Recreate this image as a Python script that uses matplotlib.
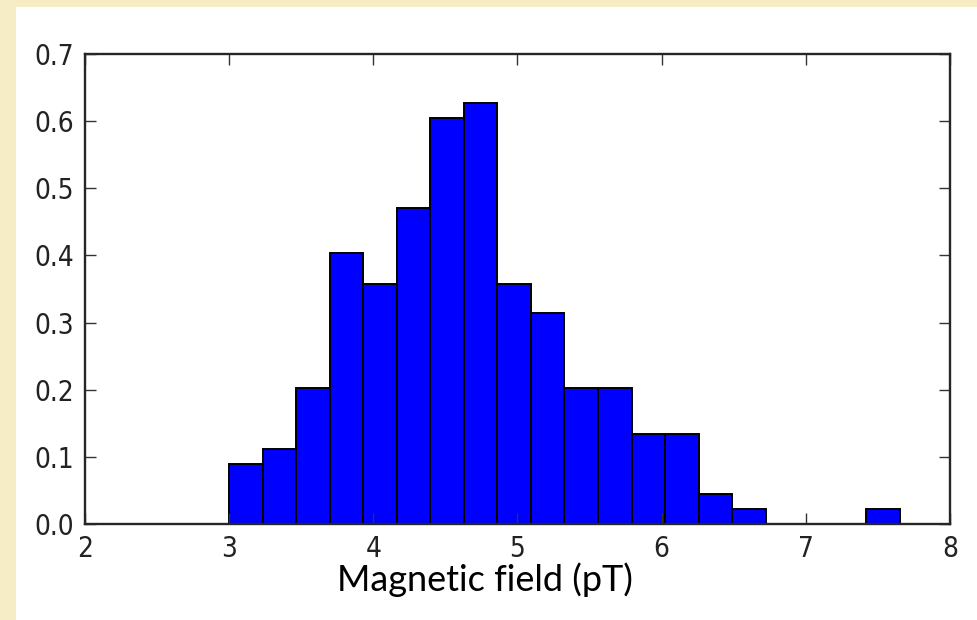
import numpy as np
import matplotlib
matplotlib.use("Agg")
import matplotlib.pyplot as plt
from matplotlib.patches import Rectangle

# Data (normalised histogram, 20 bins from 3.0 to ~7.65)
bin_start = 3.0
bin_stop = 7.652
densities = [0.090, 0.112, 0.202, 0.403, 0.358, 0.470, 0.605, 0.627, 0.358, 0.314,
             0.202, 0.202, 0.134, 0.134, 0.045, 0.022, 0.0, 0.0, 0.0, 0.022]
x_ticks = [2, 3, 4, 5, 6, 7, 8]
y_ticks = [0.0, 0.1, 0.2, 0.3, 0.4, 0.5, 0.6, 0.7]
x_label = "Magnetic field (pT)"

edges = np.linspace(bin_start, bin_stop, len(densities) + 1)

fig = plt.figure(figsize=(9.78, 6.2), dpi=100)
fig.patch.set_facecolor("#F6ECC6")
fig.patches.append(Rectangle((16 / 978, 0), 1 - 16 / 978, 1 - 7 / 620,
                             transform=fig.transFigure, facecolor="white",
                             edgecolor="none", zorder=-5))

ax = fig.add_axes([85 / 978, 1 - 524 / 620, (950 - 85) / 978, (524 - 54) / 620])
ax.set_zorder(2)
ax.bar(edges[:-1], densities, width=np.diff(edges), align="edge",
       color="#0000FF", edgecolor="black", linewidth=1.4)

ax.set_xlim(2, 8)
ax.set_ylim(0, 0.7)
ax.set_xticks(x_ticks)
ax.set_yticks(y_ticks)
ax.set_xticklabels([str(t) for t in x_ticks])
ax.set_yticklabels([f"{t:.1f}" for t in y_ticks])

tick_font = dict(family="DejaVu Sans", stretch="condensed", size=20)
for lab in ax.get_xticklabels() + ax.get_yticklabels():
    lab.set_fontproperties(matplotlib.font_manager.FontProperties(**tick_font))
    lab.set_color("#222222")

ax.tick_params(direction="in", length=8, width=1, top=True, right=True,
               color="#333333", pad=8)
for s in ax.spines.values():
    s.set_linewidth(1.7)
    s.set_color("#262626")

fig.text(485 / 978, 1 - 591 / 620, x_label, ha="center", va="baseline",
         fontsize=26, family="Lato", color="black", zorder=3)

fig.savefig("out.png", dpi=100, facecolor=fig.get_facecolor())
